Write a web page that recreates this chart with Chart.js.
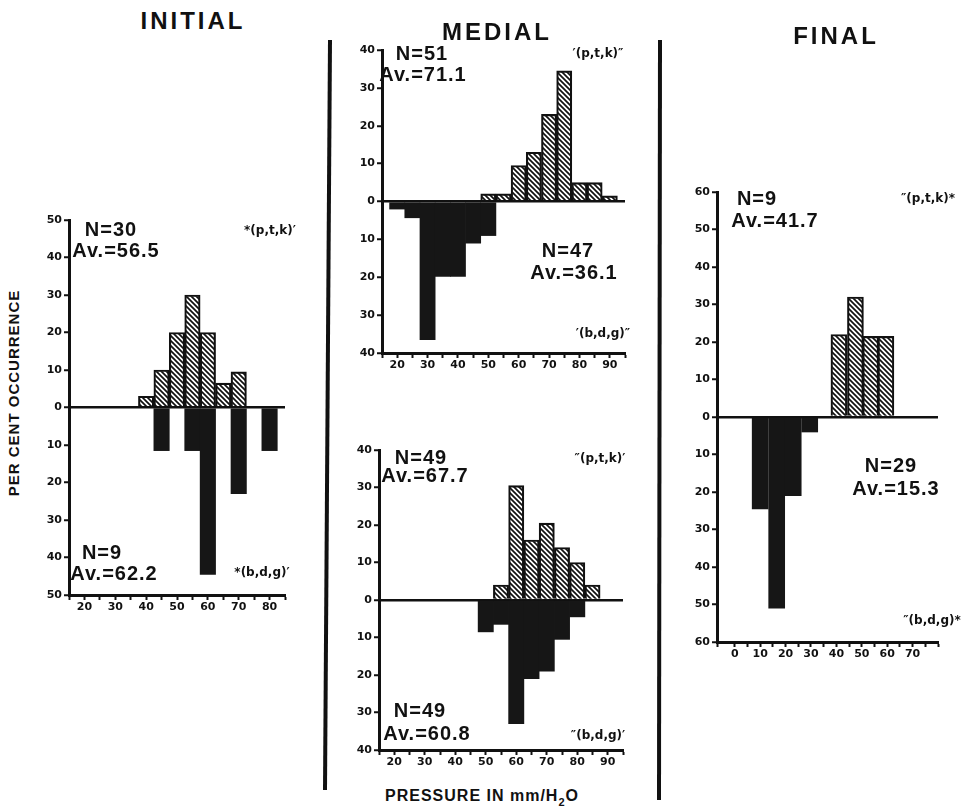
<!DOCTYPE html>
<html>
<head>
<meta charset="utf-8">
<script src="https://cdn.jsdelivr.net/npm/chart.js@4.4.0/dist/chart.umd.min.js"></script>
<style>
body { margin: 0; background: #fff; width: 963px; height: 812px; position: relative; overflow: hidden; font-family: "Liberation Sans", Arial, sans-serif; color: #111; }
canvas { position: absolute; }
.t { position: absolute; font-weight: bold; white-space: nowrap; line-height: 1; transform: translate(-50%, -50%); }
.big { font-size: 20px; letter-spacing: 1px; }
.tag { font-size: 12px; font-family: "DejaVu Sans", sans-serif; }
.title { font-size: 24px; letter-spacing: 3px; }
#ytitle { font-size: 15px; letter-spacing: 1px; transform: translate(-50%, -50%) rotate(-90deg); }
#xtitle { font-size: 16px; letter-spacing: 1px; }
svg { position: absolute; left: 0; top: 0; }
</style>
</head>
<body>
<svg width="963" height="812">
  <line x1="330" y1="40" x2="325" y2="790" stroke="#111" stroke-width="4"/>
  <line x1="660" y1="40" x2="659" y2="800" stroke="#111" stroke-width="4"/>
</svg>

<canvas id="initial" width="265" height="415" style="left:30px;top:205px"></canvas>
<canvas id="medialA" width="295" height="343" style="left:340px;top:35px"></canvas>
<canvas id="medialB" width="296" height="340" style="left:337px;top:435px"></canvas>
<canvas id="final" width="271" height="490" style="left:677px;top:177px"></canvas>

<div class="t title" style="left:193px;top:21px">INITIAL</div>
<div class="t title" style="left:497px;top:32px">MEDIAL</div>
<div class="t title" style="left:836px;top:36px">FINAL</div>
<div class="t" id="ytitle" style="left:13px;top:393px">PER CENT OCCURRENCE</div>
<div class="t" id="xtitle" style="left:482px;top:798px">PRESSURE IN mm/H<sub style="font-size:11px">2</sub>O</div>

<div class="t big" style="left:111px;top:229px">N=30</div>
<div class="t big" style="left:116px;top:250px">Av.=56.5</div>
<div class="t tag" style="left:270px;top:230px">*(p,t,k)′</div>
<div class="t big" style="left:102px;top:552px">N=9</div>
<div class="t big" style="left:114px;top:573px">Av.=62.2</div>
<div class="t tag" style="left:262px;top:572px">*(b,d,g)′</div>

<div class="t big" style="left:422px;top:53px">N=51</div>
<div class="t big" style="left:423px;top:74px">Av.=71.1</div>
<div class="t tag" style="left:598px;top:53px">′(p,t,k)″</div>
<div class="t big" style="left:568px;top:250px">N=47</div>
<div class="t big" style="left:574px;top:272px">Av.=36.1</div>
<div class="t tag" style="left:603px;top:333px">′(b,d,g)″</div>

<div class="t big" style="left:421px;top:457px">N=49</div>
<div class="t big" style="left:425px;top:475px">Av.=67.7</div>
<div class="t tag" style="left:600px;top:458px">″(p,t,k)′</div>
<div class="t big" style="left:420px;top:710px">N=49</div>
<div class="t big" style="left:427px;top:733px">Av.=60.8</div>
<div class="t tag" style="left:598px;top:735px">″(b,d,g)′</div>

<div class="t big" style="left:757px;top:198px">N=9</div>
<div class="t big" style="left:775px;top:220px">Av.=41.7</div>
<div class="t tag" style="left:928px;top:198px">″(p,t,k)*</div>
<div class="t big" style="left:891px;top:465px">N=29</div>
<div class="t big" style="left:896px;top:488px">Av.=15.3</div>
<div class="t tag" style="left:932px;top:620px">″(b,d,g)*</div>

<script>
// bin centres (mm H2O, as read against each panel's printed axis) and per cent occurrence
// (p,t,k) bars go up, (b,d,g) bars go down
const initialPtkBins = [40, 45, 50, 55, 60, 65, 70];
const initialPtkPct  = [3, 10, 20, 30, 20, 6.5, 9.5];
const initialBdgBins = [45, 55, 60, 70, 80];
const initialBdgPct  = [11.5, 11.5, 44.5, 23, 11.5];

const medialAPtkBins = [50, 55, 60, 65, 70, 75, 80, 85, 90];
const medialAPtkPct  = [2, 2, 9.5, 13, 23, 34.5, 5, 5, 1.5];
const medialABdgBins = [20, 25, 30, 35, 40, 45, 50];
const medialABdgPct  = [2, 4.3, 36.5, 19.8, 19.8, 11, 9];

const medialBPtkBins = [55, 60, 65, 70, 75, 80, 85];
const medialBPtkPct  = [4, 30.5, 16, 20.5, 14, 10, 4];
const medialBBdgBins = [50, 55, 60, 65, 70, 75, 80];
const medialBBdgPct  = [8.5, 6.5, 33, 21, 19, 10.5, 4.5];

const finalPtkBins = [41, 47.5, 53.5, 59.5];
const finalPtkPct  = [22, 32, 21.5, 21.5];
const finalBdgBins = [10, 16.5, 23, 29.5];
const finalBdgPct  = [24.5, 51, 21, 4];

// axis ranges and printed tick labels
const initialPressure = [15, 85];
const medialPressure  = [15, 95];
const finalPressure   = [-7, 80];
const initialPressureLabels = [20, 30, 40, 50, 60, 70, 80];
const medialPressureLabels  = [20, 30, 40, 50, 60, 70, 80, 90];
const finalPressureLabels   = [0, 10, 20, 30, 40, 50, 60, 70];
const initialPctMax = 50, medialPctMax = 40, finalPctMax = 60;

const tickFont = { family: '"DejaVu Sans", sans-serif', weight: 'bold', size: 11 };

function hatch() {
    const s = 5;
    const c = document.createElement('canvas');
    c.width = s; c.height = s;
    const g = c.getContext('2d');
    g.strokeStyle = '#111';
    g.lineWidth = 1.7;
    g.beginPath();
    g.moveTo(0, 0); g.lineTo(s, s);
    g.moveTo(-1, s - 1); g.lineTo(1, s + 1);
    g.moveTo(s - 1, -1); g.lineTo(s + 1, 1);
    g.stroke();
    return g.createPattern(c, 'repeat');
}
const stripes = hatch();

function panel(id, p) {
    new Chart(document.getElementById(id), {
        type: 'bar',
        data: {
            datasets: [
                {
                    stack: 'all',
                    data: p.ptkX.map((x, i) => ({ x: x, y: p.ptk[i] })),
                    backgroundColor: stripes,
                    borderColor: '#111',
                    borderWidth: 1.5,
                    borderSkipped: 'start'
                },
                {
                    stack: 'all',
                    data: p.bdgX.map((x, i) => ({ x: x, y: -p.bdg[i] })),
                    backgroundColor: '#161616',
                    borderWidth: 0
                }
            ]
        },
        options: {
            responsive: false,
            animation: false,
            events: [],
            barPercentage: 1,
            categoryPercentage: 1,
            barThickness: p.thick,
            layout: { padding: { top: 15, right: 10, bottom: 0, left: 0 } },
            plugins: { legend: { display: false }, tooltip: { enabled: false } },
            scales: {
                x: {
                    type: 'linear',
                    min: p.x[0], max: p.x[1],
                    offset: false,
                    afterFit: s => { s.height = 25; },
                    ticks: {
                        stepSize: 5, autoSkip: false, maxRotation: 0, padding: 1,
                        color: '#111', font: tickFont,
                        callback: v => p.labels.includes(v) ? String(v) : ''
                    },
                    grid: { offset: false, drawOnChartArea: false, tickLength: 5, tickColor: '#111', tickWidth: 2 },
                    border: { color: '#111', width: 3 }
                },
                y: {
                    min: -p.y, max: p.y,
                    afterFit: s => { s.width = p.yw; },
                    ticks: {
                        stepSize: 10, padding: 2, color: '#111', font: tickFont,
                        callback: v => String(Math.abs(v))
                    },
                    grid: {
                        color: c => (c.tick && c.tick.value === 0) ? '#111' : 'rgba(0,0,0,0)',
                        lineWidth: 2.5, tickColor: '#111', tickLength: 5, tickWidth: 2
                    },
                    border: { color: '#111', width: 3 }
                }
            }
        }
    });
}

panel('initial', { ptkX: initialPtkBins, ptk: initialPtkPct, bdgX: initialBdgBins, bdg: initialBdgPct,
    x: initialPressure, labels: initialPressureLabels, y: initialPctMax, yw: 39 });
panel('medialA', { ptkX: medialAPtkBins, ptk: medialAPtkPct, bdgX: medialABdgBins, bdg: medialABdgPct,
    x: medialPressure, labels: medialPressureLabels, y: medialPctMax, yw: 42 });
panel('medialB', { ptkX: medialBPtkBins, ptk: medialBPtkPct, bdgX: medialBBdgBins, bdg: medialBBdgPct,
    x: medialPressure, labels: medialPressureLabels, y: medialPctMax, yw: 42 });
panel('final', { ptkX: finalPtkBins, ptk: finalPtkPct, bdgX: finalBdgBins, bdg: finalBdgPct,
    x: finalPressure, labels: finalPressureLabels, y: finalPctMax, yw: 40, thick: 16 });
</script>
</body>
</html>
